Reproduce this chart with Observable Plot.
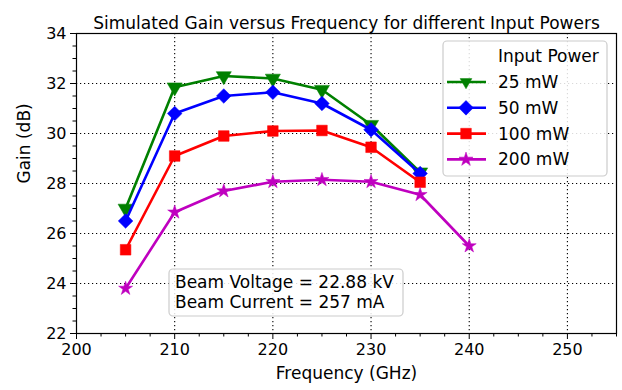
<!DOCTYPE html>
<html>
<head>
<meta charset="utf-8">
<script src="https://cdn.jsdelivr.net/npm/d3@7"></script>
<script src="https://cdn.jsdelivr.net/npm/@observablehq/plot@0.6"></script>
<style>
  html, body { margin: 0; padding: 0; background: white; }
  svg { font-family: "DejaVu Sans", sans-serif; }
</style>
</head>
<body>
<div id="chart"></div>
<script>
const chartTitle = "Simulated Gain versus Frequency for different Input Powers";
const xLabel = "Frequency (GHz)";
const yLabel = "Gain (dB)";
const legendTitle = "Input Power";
const annotationLines = ["Beam Voltage = 22.88 kV", "Beam Current = 257 mA"];

const seriesNames = ["25 mW", "50 mW", "100 mW", "200 mW"];
const seriesColors = ["#008000", "#0000ff", "#ff0000", "#bf00bf"];
const freq = [205, 210, 215, 220, 225, 230, 235, 240];
const gain25 = [27.0, 31.85, 32.3, 32.2, 31.75, 30.35, 28.45];
const gain50 = [26.5, 30.8, 31.5, 31.65, 31.2, 30.15, 28.4];
const gain100 = [25.35, 29.1, 29.9, 30.1, 30.12, 29.45, 28.05];
const gain200 = [23.8, 26.85, 27.7, 28.07, 28.15, 28.07, 27.55, 25.5];
const xTicks = [200, 210, 220, 230, 240, 250];
const yTicks = [22, 24, 26, 28, 30, 32, 34];

const allGains = [gain25, gain50, gain100, gain200];
const symbols = ["triangle", "diamond2", "square", "star"];
const rotations = [180, 0, 0, 0];
const radii = [5.6, 6.6, 6.0, 4.4];

const series = allGains.map((g, i) => g.map((v, j) => ({series: seriesNames[i], x: freq[j], y: v})));

const xMinor = d3.range(200, 255.01, 2.5).filter(v => !xTicks.includes(v));
const yMinor = d3.range(22, 34.01, 0.5).filter(v => !yTicks.includes(v));

const dotted = {stroke: "black", strokeOpacity: 1, strokeWidth: 1.1, strokeDasharray: "1.2,2.8"};

const marks = [
  Plot.gridX(xTicks.filter(v => v > 200), dotted),
  Plot.gridY(yTicks.filter(v => v > 22 && v < 34), dotted),
  Plot.axisX(xTicks, {tickSize: 6, tickPadding: 4, fontSize: 16, label: null, tickFormat: d => d}),
  Plot.axisX(xMinor, {tickSize: 3.5, tickFormat: () => "", label: null}),
  Plot.axisY(yTicks, {tickSize: 6, tickPadding: 4, fontSize: 16, label: null, tickFormat: d => d}),
  Plot.axisY(yMinor, {tickSize: 3.5, tickFormat: () => "", label: null}),
];
series.forEach((s, i) => {
  marks.push(Plot.line(s, {x: "x", y: "y", stroke: seriesColors[i], strokeWidth: 2.6}));
  marks.push(Plot.dot(s, {x: "x", y: "y", symbol: symbols[i], fill: seriesColors[i], stroke: seriesColors[i], strokeWidth: 0.5, r: radii[i], rotate: rotations[i]}));
});
marks.push(Plot.frame({stroke: "black", strokeWidth: 1.2}));
marks.push(Plot.text([chartTitle], {frameAnchor: "top", dy: -17, fontSize: 17, fill: "black"}));
marks.push(Plot.text([xLabel], {frameAnchor: "bottom", dy: 45, fontSize: 17, fill: "black"}));
marks.push(Plot.text([yLabel], {frameAnchor: "left", dx: -52, rotate: -90, fontSize: 17, fill: "black"}));

const plot = Plot.plot({
  width: 622,
  height: 390,
  marginLeft: 76,
  marginRight: 6,
  marginTop: 33,
  marginBottom: 57,
  style: {fontFamily: "DejaVu Sans", color: "black", background: "white", overflow: "visible"},
  x: {domain: [200, 255]},
  y: {domain: [22, 34]},
  marks
});
document.getElementById("chart").appendChild(plot);

// Legend and annotation box (overlay)
const svg = d3.select(plot);
const lg = svg.append("g").attr("font-family", "DejaVu Sans").attr("font-size", 17).attr("text-anchor", "start");
lg.append("rect").attr("x", 443).attr("y", 41).attr("width", 164).attr("height", 135)
  .attr("rx", 4).attr("fill", "white").attr("fill-opacity", 0.85).attr("stroke", "#cccccc").attr("stroke-width", 1.2);
lg.append("text").attr("x", 498).attr("y", 62).text(legendTitle);
const d3sym = {triangle: d3.symbolTriangle2, diamond2: d3.symbolDiamond2, square: d3.symbolSquare, star: d3.symbolStar};
seriesNames.forEach((name, i) => {
  const cy = 82 + i * 25.8;
  lg.append("line").attr("x1", 447).attr("x2", 486).attr("y1", cy).attr("y2", cy)
    .attr("stroke", seriesColors[i]).attr("stroke-width", 2.6);
  lg.append("path").attr("d", d3.symbol(d3sym[symbols[i]], radii[i] * radii[i] * Math.PI)())
    .attr("transform", `translate(466,${cy}) rotate(${rotations[i]})`)
    .attr("fill", seriesColors[i]).attr("stroke", seriesColors[i]).attr("stroke-width", 0.5);
  lg.append("text").attr("x", 498).attr("y", cy + 6).text(name);
});
const ab = svg.append("g").attr("font-family", "DejaVu Sans").attr("font-size", 17).attr("text-anchor", "start");
ab.append("rect").attr("x", 169).attr("y", 269).attr("width", 234).attr("height", 47)
  .attr("rx", 4).attr("fill", "white").attr("fill-opacity", 0.85).attr("stroke", "#cccccc").attr("stroke-width", 1.2);
annotationLines.forEach((t, i) => {
  ab.append("text").attr("x", 175).attr("y", 288 + i * 19.5).text(t);
});
</script>
</body>
</html>
